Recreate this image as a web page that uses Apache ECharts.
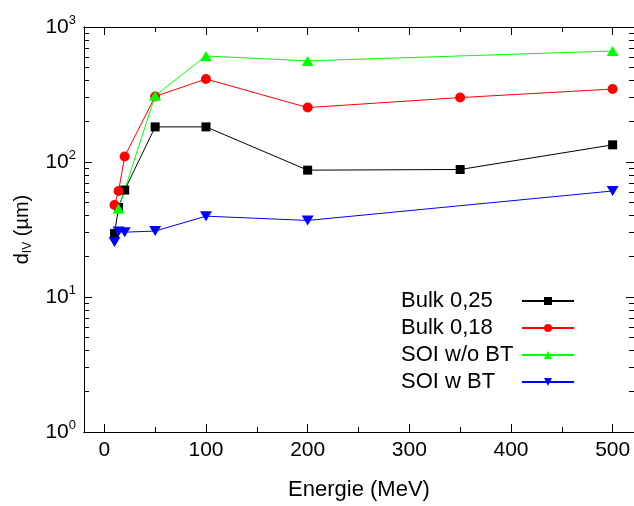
<!DOCTYPE html>
<html><head><meta charset="utf-8">
<script src="https://cdn.jsdelivr.net/npm/echarts@6/dist/echarts.min.js"></script>
<style>html,body{margin:0;padding:0;background:#fff}#c{width:634px;height:506px}</style>
</head><body><div id="c"></div>
<script>
const seriesNames = ['Bulk 0,25', 'Bulk 0,18', 'SOI w/o BT', 'SOI w BT'];
const bulk025E = [10, 14, 20, 50, 100, 200, 350, 500];
const bulk025V = [29.5, 46, 62, 182, 182, 87, 88, 134];
const bulk018E = [10, 14, 20, 50, 100, 200, 350, 500];
const bulk018V = [48, 61, 110, 306, 412, 253, 300, 347];
const soiNoBtE = [14, 50, 100, 200, 500];
const soiNoBtV = [45, 310, 610, 561, 664];
const soiBtE = [10, 14, 20, 50, 100, 200, 500];
const soiBtV = [25.5, 30.5, 30.2, 30.8, 39.7, 36.9, 61];
const xMajorTicks = [0, 100, 200, 300, 400, 500];
const xMinorTicks = [50, 150, 250, 350, 450];
const yMajorTicks = [1, 10, 100, 1000];
const yMinorTicks = [2, 3, 4, 5, 6, 7, 8, 9, 20, 30, 40, 50, 60, 70, 80, 90, 200, 300, 400, 500, 600, 700, 800, 900];

const FONT = '"Liberation Sans", Arial, sans-serif';
const zip = (xs, ys) => xs.map((x, i) => [x, ys[i]]);

const xBase = { type: 'value', min: -20, max: 521, splitLine: { show: false },
  axisLine: { onZero: false, lineStyle: { color: '#000', width: 1 } } };
const yBase = { type: 'log', logBase: 10, min: 1, max: 1000, splitLine: { show: false },
  axisLine: { onZero: false, lineStyle: { color: '#000', width: 1 } } };
const tick = (vals, len) => ({ show: true, inside: true, length: len, customValues: vals,
  lineStyle: { color: '#000', width: 1 } });

const chart = echarts.init(document.getElementById('c'), null, { renderer: 'canvas' });
chart.setOption({
  animation: false,
  backgroundColor: '#fff',
  grid: { left: 84, right: -1, top: 27, bottom: 68, containLabel: false },
  xAxis: [
    Object.assign({}, xBase, { position: 'bottom', axisTick: tick(xMajorTicks, 8),
      axisLabel: { customValues: xMajorTicks, fontSize: 21, fontFamily: FONT, color: '#000', margin: 8 },
      name: 'Energie (MeV)', nameLocation: 'middle', nameGap: 47,
      nameTextStyle: { fontSize: 22, fontFamily: FONT, color: '#000' } }),
    Object.assign({}, xBase, { position: 'bottom', axisTick: tick(xMinorTicks, 5), axisLabel: { show: false } }),
    Object.assign({}, xBase, { position: 'top', axisTick: tick(xMajorTicks, 8), axisLabel: { show: false } }),
    Object.assign({}, xBase, { position: 'top', axisTick: tick(xMinorTicks, 5), axisLabel: { show: false } })
  ],
  yAxis: [
    Object.assign({}, yBase, { position: 'left', axisTick: tick(yMajorTicks, 8),
      axisLabel: { customValues: yMajorTicks, margin: 8, color: '#000',
        formatter: v => '{b|10}{s|' + Math.round(Math.log10(v)) + '}',
        rich: { b: { fontSize: 21, fontFamily: FONT, color: '#000', lineHeight: 26 },
                s: { fontSize: 13, fontFamily: FONT, color: '#000', verticalAlign: 'top', lineHeight: 26 } } },
      name: '{d|d}{s|IV}{d| (µm)}', nameLocation: 'middle', nameGap: 50, nameRotate: 90,
      nameTextStyle: { rich: { d: { fontSize: 20, fontFamily: FONT, color: '#000', lineHeight: 24 },
        s: { fontSize: 12, fontFamily: FONT, color: '#000', verticalAlign: 'bottom', lineHeight: 24 } } } }),
    Object.assign({}, yBase, { position: 'left', axisTick: tick(yMinorTicks, 5), axisLabel: { show: false } }),
    Object.assign({}, yBase, { position: 'right', axisTick: tick(yMajorTicks, 8), axisLabel: { show: false } }),
    Object.assign({}, yBase, { position: 'right', axisTick: tick(yMinorTicks, 5), axisLabel: { show: false } })
  ],
  legend: {
    orient: 'vertical', left: 396, top: 285, align: 'right',
    itemWidth: 52, itemHeight: 10, itemGap: 5,
    formatter: name => '{t|' + name + '}',
    textStyle: { fontSize: 22, fontFamily: FONT, color: '#000', lineHeight: 22,
      rich: { t: { fontSize: 22, fontFamily: FONT, color: '#000', width: 116, align: 'left', lineHeight: 22 } } },
    data: seriesNames
  },
  series: [
    { name: seriesNames[0], type: 'line', data: zip(bulk025E, bulk025V), symbol: 'rect', symbolSize: 9,
      lineStyle: { color: '#000', width: 1 }, itemStyle: { color: '#000' } },
    { name: seriesNames[1], type: 'line', data: zip(bulk018E, bulk018V), symbol: 'circle', symbolSize: 10,
      lineStyle: { color: '#ff0000', width: 1 }, itemStyle: { color: '#ff0000' } },
    { name: seriesNames[2], type: 'line', data: zip(soiNoBtE, soiNoBtV), symbol: 'triangle', symbolSize: [12, 10],
      lineStyle: { color: '#00ff00', width: 1 }, itemStyle: { color: '#00ff00' } },
    { name: seriesNames[3], type: 'line', data: zip(soiBtE, soiBtV), symbol: 'triangle', symbolRotate: 180, symbolSize: [12, 10],
      lineStyle: { color: '#0000ff', width: 1 }, itemStyle: { color: '#0000ff' } }
  ]
});
</script></body></html>
